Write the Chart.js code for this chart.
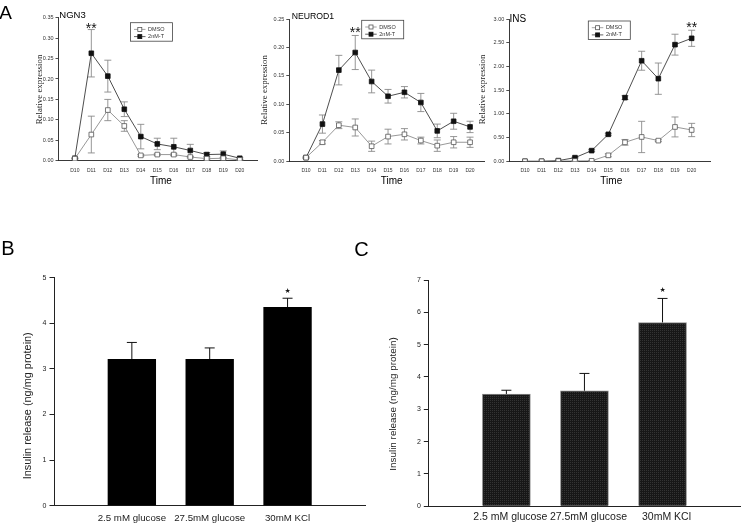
<!DOCTYPE html>
<html><head><meta charset="utf-8">
<script src="https://cdn.jsdelivr.net/npm/chart.js@4.4.1/dist/chart.umd.min.js"></script>
<style>
html,body{margin:0;padding:0;background:#fff;}
body{width:745px;height:528px;position:relative;overflow:hidden;}
canvas{position:absolute;}
</style></head><body>
<canvas id="ngn3" width="262" height="195" style="left:0;top:0"></canvas>
<canvas id="neurod1" width="245" height="195" style="left:245px;top:0"></canvas>
<canvas id="ins" width="275" height="195" style="left:470px;top:0"></canvas>
<canvas id="panelB" width="372" height="298" style="left:0;top:230px"></canvas>
<canvas id="panelC" width="395" height="298" style="left:350px;top:230px"></canvas>
<script>
// ---------- data ----------
const days = ['D10','D11','D12','D13','D14','D15','D16','D17','D18','D19','D20'];
const seriesNames = ['DMSO','2nM-T'];

const ngn3Dmso    = [0.005,0.064,0.124,0.085,0.013,0.015,0.015,0.009,0.005,0.006,0.002];
const ngn3DmsoErr = [0.001,0.045,0.026,0.013,0.002,0.002,0.003,0.002,0.002,0.002,0.001];
const ngn3T       = [0.006,0.263,0.207,0.126,0.059,0.041,0.034,0.025,0.015,0.016,0.006];
const ngn3TErr    = [0.001,0.058,0.039,0.018,0.030,0.014,0.021,0.015,0.005,0.008,0.002];
const ngn3Ticks   = [0,0.05,0.10,0.15,0.20,0.25,0.30,0.35];

const neurod1Dmso    = [0.006,0.033,0.063,0.059,0.026,0.043,0.047,0.036,0.027,0.033,0.033];
const neurod1DmsoErr = [0.001,0.003,0.006,0.015,0.009,0.013,0.010,0.006,0.010,0.010,0.009];
const neurod1T       = [0.006,0.065,0.160,0.191,0.140,0.114,0.121,0.103,0.053,0.070,0.060];
const neurod1TErr    = [0.001,0.016,0.026,0.030,0.020,0.012,0.010,0.016,0.012,0.014,0.010];
const neurod1Ticks   = [0,0.05,0.10,0.15,0.20,0.25];

const insDmso    = [0,0,0.005,0.007,0.010,0.126,0.400,0.513,0.436,0.724,0.660];
const insDmsoErr = [0,0,0,0.005,0.005,0.030,0.060,0.330,0.020,0.210,0.140];
const insT       = [0,0,0.014,0.077,0.225,0.569,1.342,2.120,1.742,2.459,2.593];
const insTErr    = [0,0,0.005,0.010,0.020,0.020,0.040,0.200,0.330,0.220,0.170];
const insTicks   = [0,0.5,1,1.5,2,2.5,3];

const conditions = ['2.5 mM glucose','27.5mM glucose','30mM KCl'];
const releaseB    = [3.21,3.21,4.35];
const releaseBErr = [0.37,0.25,0.20];
const ticksB      = [0,1,2,3,4,5];
const releaseC    = [3.47,3.57,5.68];
const releaseCErr = [0.12,0.54,0.75];
const ticksC      = [0,1,2,3,4,5,6,7];

// ---------- helpers ----------
const SANS = '"Liberation Sans", Arial, sans-serif';
const SERIF = '"Liberation Serif", "Times New Roman", serif';
const dayNum = d => parseInt(d.slice(1), 10);
const val = d => (d && typeof d === 'object') ? d.y : d;

function txt(ctx, t) {
  ctx.save();
  ctx.font = t.font; ctx.fillStyle = t.color || '#000';
  ctx.textAlign = t.align || 'center';
  ctx.translate(t.x, t.y);
  if (t.rot) ctx.rotate(t.rot);
  if (t.vc) {
    ctx.textBaseline = 'alphabetic';
    const m = ctx.measureText(t.s);
    ctx.fillText(t.s, 0, (m.actualBoundingBoxAscent - m.actualBoundingBoxDescent) / 2);
  } else {
    ctx.textBaseline = 'middle';
    ctx.fillText(t.s, 0, 0);
  }
  ctx.restore();
}

function drawErrors(chart) {
  const ctx = chart.ctx, ys = chart.scales.y;
  chart.data.datasets.forEach((ds, di) => {
    if (!ds.errors) return;
    const meta = chart.getDatasetMeta(di);
    ctx.save();
    ctx.strokeStyle = ds.errColor; ctx.lineWidth = ds.errWidth || 0.9;
    meta.data.forEach((pt, i) => {
      const v = val(ds.data[i]); const e = ds.errors[i];
      if (v == null || !e) return;
      const x = pt.x, hw = ds.capHalf;
      const top = ys.getPixelForValue(v + e);
      const bot = ds.upperOnly ? ys.getPixelForValue(v) : ys.getPixelForValue(Math.max(v - e, 0));
      ctx.beginPath();
      ctx.moveTo(x, top); ctx.lineTo(x, bot);
      ctx.moveTo(x - hw, top); ctx.lineTo(x + hw, top);
      if (!ds.upperOnly) { ctx.moveTo(x - hw, bot); ctx.lineTo(x + hw, bot); }
      ctx.stroke();
    });
    ctx.restore();
  });
}

function drawLegend(chart, L) {
  const ctx = chart.ctx;
  ctx.save();
  ctx.strokeStyle = '#444'; ctx.lineWidth = 0.8;
  ctx.strokeRect(L.x, L.y, 42, 18.5);
  chart.data.datasets.forEach((ds, i) => {
    const ry = L.y + 6.7 + i * 7.2;
    ctx.strokeStyle = ds.borderColor; ctx.lineWidth = 0.8;
    ctx.beginPath(); ctx.moveTo(L.x + 3.5, ry); ctx.lineTo(L.x + 15, ry); ctx.stroke();
    ctx.fillStyle = ds.pointBackgroundColor; ctx.strokeStyle = ds.pointBorderColor;
    ctx.fillRect(L.x + 7.3, ry - 2, 4, 4); ctx.strokeRect(L.x + 7.3, ry - 2, 4, 4);
    txt(ctx, {s: ds.label, x: L.x + 17.6, y: ry, font: '5.5px ' + SANS, align: 'left', color: '#333'});
  });
  ctx.restore();
}

function deco(cfg) {
  return {
    id: 'deco',
    beforeDatasetsDraw(chart) { drawErrors(chart); },
    afterDraw(chart) {
      const ctx = chart.ctx;
      (cfg.texts || []).forEach(t => txt(ctx, t));
      if (cfg.legend) drawLegend(chart, cfg.legend);
      if (cfg.star) {
        const s = cfg.star, ds = chart.data.datasets[s.ds];
        const meta = chart.getDatasetMeta(s.ds);
        const v = val(ds.data[s.index]);
        const top = chart.scales.y.getPixelForValue(v + ds.errors[s.index]);
        txt(ctx, {s: s.s, x: meta.data[s.index].x + (s.dx || 0), y: top - s.gap, font: s.font, vc: true, color: '#111'});
      }
    }
  };
}

function lineChart(id, dmso, dmsoErr, treat, treatErr, yTicks, g) {
  const pts = arr => days.map((d, i) => ({x: dayNum(d), y: arr[i]}));
  const ds = (label, arr, err, line, fill, border) => ({
    label, data: pts(arr), errors: err, errColor: '#8a8a8a', capHalf: 3.5,
    borderColor: line, borderWidth: 0.9, tension: 0,
    pointStyle: 'rect', pointRadius: 3.3, pointHoverRadius: 3.3,
    pointBackgroundColor: fill, pointBorderColor: border, pointBorderWidth: 0.8,
    fill: false
  });
  return new Chart(document.getElementById(id), {
    type: 'line',
    data: { datasets: [
      ds(seriesNames[0], dmso, dmsoErr, '#8c8c8c', '#ffffff', '#555'),
      ds(seriesNames[1], treat, treatErr, '#3a3a3a', '#111111', '#111')
    ]},
    options: {
      responsive: false, animation: false, devicePixelRatio: 1,
      layout: { padding: g.pad },
      plugins: { legend: {display: false}, tooltip: {enabled: false} },
      scales: {
        x: {
          type: 'linear', min: g.xmin, max: g.xmax,
          afterBuildTicks: s => { s.ticks = days.map(d => ({value: dayNum(d)})); },
          afterFit: s => { s.height = 20; },
          grid: {display: false, drawTicks: false},
          border: {display: true, color: '#222', width: 0.9},
          ticks: {autoSkip: false, maxRotation: 0, minRotation: 0, padding: 6.5,
                  font: {size: 5, family: SANS}, color: '#333',
                  callback: (v, i) => days[i]}
        },
        y: {
          min: yTicks[0], max: yTicks[yTicks.length - 1],
          afterBuildTicks: s => { s.ticks = yTicks.map(v => ({value: v})); },
          afterFit: s => { s.width = g.yw; },
          grid: {display: true, drawOnChartArea: false, drawTicks: true, tickLength: 3, color: '#222', lineWidth: 0.8},
          border: {display: true, color: '#222', width: 0.9},
          ticks: {padding: 2, font: {size: 5.5, family: SANS}, color: '#333',
                  callback: v => Number(v).toFixed(2)}
        }
      }
    },
    plugins: [deco(g.deco)]
  });
}

// ---------- panel A ----------
lineChart('ngn3', ngn3Dmso, ngn3DmsoErr, ngn3T, ngn3TErr, ngn3Ticks, {
  xmin: 9.01, xmax: 21.1, yw: 58.5,
  pad: {left: 0, right: 2, top: 17.7, bottom: 14.3},
  deco: {
    texts: [
      {s: 'A', x: 5.5, y: 13.5, font: '19px ' + SANS},
      {s: 'NGN3', x: 59.3, y: 15.7, font: '9.5px ' + SANS, align: 'left'},
      {s: 'Relative expression', x: 40, y: 89.5, font: '8.9px ' + SERIF, rot: -Math.PI / 2, color: '#222'},
      {s: 'Time', x: 161, y: 181.7, font: '10px ' + SANS}
    ],
    legend: {x: 130.5, y: 22.7},
    star: {ds: 1, index: 1, s: '**', gap: 3.6, font: '14px ' + SANS}
  }
});

lineChart('neurod1', neurod1Dmso, neurod1DmsoErr, neurod1T, neurod1TErr, neurod1Ticks, {
  xmin: 8.98, xmax: 20.85, yw: 44.3,
  pad: {left: 0, right: 6, top: 19, bottom: 14},
  deco: {
    texts: [
      {s: 'NEUROD1', x: 46.7, y: 17, font: '8.7px ' + SANS, align: 'left'},
      {s: 'Relative expression', x: 20, y: 90, font: '8.9px ' + SERIF, rot: -Math.PI / 2, color: '#222'},
      {s: 'Time', x: 146.7, y: 181.7, font: '10px ' + SANS}
    ],
    legend: {x: 116.7, y: 20.3},
    star: {ds: 1, index: 3, s: '**', gap: 5, font: '14px ' + SANS}
  }
});

lineChart('ins', insDmso, insDmsoErr, insT, insTErr, insTicks, {
  xmin: 9.06, xmax: 21.1, yw: 39.3,
  pad: {left: 0, right: 35, top: 19, bottom: 13.7},
  deco: {
    texts: [
      {s: 'INS', x: 39.5, y: 18.8, font: '10px ' + SANS, align: 'left'},
      {s: 'Relative expression', x: 13, y: 89.5, font: '8.9px ' + SERIF, rot: -Math.PI / 2, color: '#222'},
      {s: 'Time', x: 141.3, y: 181.7, font: '10px ' + SANS}
    ],
    legend: {x: 118.3, y: 21},
    star: {ds: 1, index: 10, s: '**', gap: 5.3, font: '14px ' + SANS}
  }
});

// ---------- panels B, C ----------
function texture() {
  const c = document.createElement('canvas'); c.width = 2; c.height = 2;
  const g = c.getContext('2d');
  g.fillStyle = '#171717'; g.fillRect(0, 0, 2, 2);
  g.fillStyle = '#333333'; g.fillRect(0, 0, 1, 1);
  return g.createPattern(c, 'repeat');
}

function barChart(id, values, errs, yTicks, g) {
  return new Chart(document.getElementById(id), {
    type: 'bar',
    data: {
      labels: ['', ...conditions, ''],
      datasets: [{
        label: 'Insulin release',
        data: [null, ...values, null],
        errors: [null, ...errs, null], upperOnly: true, errColor: '#111', errWidth: 1, capHalf: 5,
        backgroundColor: g.fill, borderColor: g.border, borderWidth: g.bw,
        barThickness: g.bar
      }]
    },
    options: {
      responsive: false, animation: false, devicePixelRatio: 1,
      layout: { padding: g.pad },
      plugins: { legend: {display: false}, tooltip: {enabled: false} },
      scales: {
        x: {
          offset: false,
          afterFit: s => { s.height = 20; },
          grid: {display: false, drawTicks: false},
          border: {display: true, color: '#222', width: 1},
          ticks: {autoSkip: false, maxRotation: 0, minRotation: 0, padding: g.xpad,
                  labelOffset: g.xoff || 0,
                  font: {size: g.xfont, family: SANS}, color: '#222'}
        },
        y: {
          min: yTicks[0], max: yTicks[yTicks.length - 1],
          afterBuildTicks: s => { s.ticks = yTicks.map(v => ({value: v})); },
          afterFit: s => { s.width = g.yw; },
          grid: {display: true, drawOnChartArea: false, drawTicks: true, tickLength: 4.5, color: '#222', lineWidth: 1},
          border: {display: true, color: '#222', width: 1},
          ticks: {padding: 3, font: {size: 7, family: SANS}, color: '#222'}
        }
      }
    },
    plugins: [deco(g.deco)]
  });
}

barChart('panelB', releaseB, releaseBErr, ticksB, {
  fill: '#000000', border: '#000000', bw: 0, bar: 47.7, yw: 54, xpad: 6.6, xfont: 9.7,
  pad: {left: 0, right: 2, top: 47.7, bottom: 2.3},
  deco: {
    texts: [
      {s: 'B', x: 8, y: 19.5, font: '20px ' + SANS},
      {s: 'Insulin release (ng/mg protein)', x: 27.5, y: 175.8, font: '10.9px ' + SANS, rot: -Math.PI / 2, color: '#222'}
    ],
    star: {ds: 0, index: 3, s: '\u2605', gap: 7.6, font: '7px "DejaVu Sans", sans-serif'}
  }
});

barChart('panelC', releaseC, releaseCErr, ticksC, {
  fill: texture(), border: '#8a8a8a', bw: 1, bar: 48, yw: 78.3, xpad: 4.4, xfont: 10.5, xoff: 4,
  pad: {left: 0, right: 0, top: 50, bottom: 1.7},
  deco: {
    texts: [
      {s: 'C', x: 11.5, y: 20, font: '20px ' + SANS},
      {s: 'Insulin release (ng/mg protein)', x: 43, y: 174, font: '9.9px ' + SANS, rot: -Math.PI / 2, color: '#222'}
    ],
    star: {ds: 0, index: 3, s: '\u2605', gap: 9, font: '7px "DejaVu Sans", sans-serif'}
  }
});
</script>
</body></html>
